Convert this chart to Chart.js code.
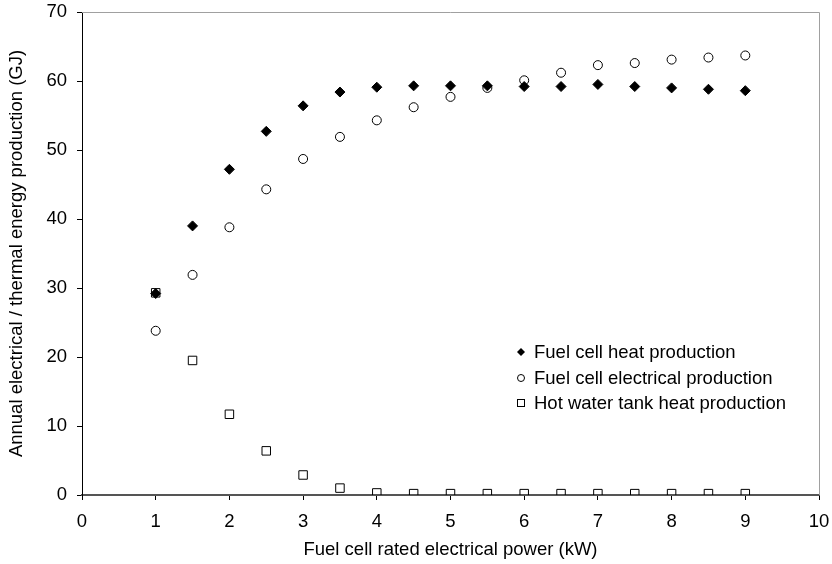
<!DOCTYPE html>
<html>
<head>
<meta charset="utf-8">
<script src="https://cdn.jsdelivr.net/npm/chart.js@4/dist/chart.umd.min.js"></script>
<style>
  html, body { margin: 0; padding: 0; background: #fff; }
  #wrap { width: 832px; height: 564px; }
</style>
</head>
<body>
<div id="wrap"><canvas id="chart" width="832" height="564"></canvas></div>
<script>
'use strict';

// Puissance électrique nominale (kW)
const power = [1, 1.5, 2, 2.5, 3, 3.5, 4, 4.5, 5, 5.5, 6, 6.5, 7, 7.5, 8, 8.5, 9];

const heatProduction = [29.2, 39.0, 47.2, 52.7, 56.4, 58.4, 59.1, 59.3, 59.3, 59.3, 59.2, 59.2, 59.5, 59.2, 59.0, 58.8, 58.6];
const electricalProduction = [23.8, 31.9, 38.8, 44.3, 48.7, 51.9, 54.3, 56.2, 57.7, 59.0, 60.1, 61.2, 62.3, 62.6, 63.1, 63.4, 63.7];
const tankHeatProduction = [29.3, 19.5, 11.7, 6.4, 2.9, 1.0, 0.3, 0.2, 0.2, 0.2, 0.2, 0.2, 0.2, 0.2, 0.2, 0.2, 0.2];

const seriesLabels = ['Fuel cell heat production', 'Fuel cell electrical production', 'Hot water tank heat production'];
const xTicks = [0, 1, 2, 3, 4, 5, 6, 7, 8, 9, 10];
const yTicks = [0, 10, 20, 30, 40, 50, 60, 70];

const FONT = 'Liberation Sans, Arial, sans-serif';
const FONT_SIZE = 18.5;

function toPoints(values) {
    return power.map((x, i) => ({ x: x, y: values[i] }));
}

// Cadre gris en haut et à droite + légende dans la zone du graphique
const framePlugin = {
    id: 'frame',
    beforeDatasetsDraw(chart) {
        const { ctx, chartArea: a } = chart;
        ctx.save();
        ctx.strokeStyle = '#a0a0a0';
        ctx.lineWidth = 1;
        ctx.beginPath();
        ctx.moveTo(a.left, a.top + 0.5);
        ctx.lineTo(a.right + 0.5, a.top + 0.5);
        ctx.lineTo(a.right + 0.5, a.bottom);
        ctx.stroke();
        ctx.restore();
    },
    afterDraw(chart) {
        const ctx = chart.ctx;
        const x0 = 521;
        const rows = [352, 378, 403];
        ctx.save();
        ctx.font = FONT_SIZE + 'px ' + FONT;
        ctx.fillStyle = '#000';
        ctx.textBaseline = 'middle';
        ctx.textAlign = 'left';
        ctx.strokeStyle = '#000';
        ctx.lineWidth = 1;
        // losange plein
        ctx.beginPath();
        ctx.moveTo(x0, rows[0] - 4);
        ctx.lineTo(x0 + 4, rows[0]);
        ctx.lineTo(x0, rows[0] + 4);
        ctx.lineTo(x0 - 4, rows[0]);
        ctx.closePath();
        ctx.fill();
        // cercle vide
        ctx.beginPath();
        ctx.arc(x0, rows[1], 3.5, 0, Math.PI * 2);
        ctx.stroke();
        // carré vide
        ctx.strokeRect(x0 - 3.5, rows[2] - 3.5, 7, 7);
        seriesLabels.forEach((lbl, i) => ctx.fillText(lbl, x0 + 13, rows[i] + 1));
        ctx.restore();
    }
};

const ctx = document.getElementById('chart');

const chartConfig = {
    type: 'scatter',
    data: {
        datasets: [{
            label: seriesLabels[0],
            data: toPoints(heatProduction),
            pointStyle: 'rectRot',
            pointRadius: 5,
            backgroundColor: '#000',
            borderColor: '#000',
            borderWidth: 1
        }, {
            label: seriesLabels[1],
            data: toPoints(electricalProduction),
            pointStyle: 'circle',
            pointRadius: 4.5,
            backgroundColor: '#fff',
            borderColor: '#000',
            borderWidth: 1
        }, {
            label: seriesLabels[2],
            data: toPoints(tankHeatProduction),
            pointStyle: 'rect',
            pointRadius: 6,
            backgroundColor: 'rgba(255,255,255,0)',
            borderColor: '#000',
            borderWidth: 1
        }]
    },
    options: {
        responsive: false,
        animation: false,
        events: [],
        layout: { padding: { left: 0, right: 13, top: 12, bottom: 0 } },
        plugins: {
            legend: { display: false },
            tooltip: { enabled: false }
        },
        scales: {
            x: {
                type: 'linear',
                min: 0,
                max: 10,
                afterBuildTicks: scale => { scale.ticks = xTicks.map(v => ({ value: v })); },
                afterFit: scale => {
                    scale.height = 69;
                    scale.paddingLeft = 0;
                    scale.paddingRight = 0;
                },
                border: { display: true, color: '#555', width: 2 },
                grid: { drawOnChartArea: false, drawTicks: true, tickLength: 5, color: '#000' },
                ticks: { color: '#000', font: { family: FONT, size: FONT_SIZE }, padding: 11, maxRotation: 0 },
                title: {
                    display: true,
                    text: 'Fuel cell rated electrical power (kW)',
                    color: '#000',
                    font: { family: FONT, size: FONT_SIZE },
                    padding: { top: 0, bottom: 3 }
                }
            },
            y: {
                type: 'linear',
                min: 0,
                max: 70,
                afterBuildTicks: scale => { scale.ticks = yTicks.map(v => ({ value: v })); },
                afterFit: scale => {
                    scale.width = 82;
                    scale.paddingTop = 0;
                    scale.paddingBottom = 0;
                },
                border: { display: true, color: '#000', width: 1 },
                grid: { drawOnChartArea: false, drawTicks: true, tickLength: 5, color: '#000' },
                ticks: { color: '#000', font: { family: FONT, size: FONT_SIZE }, padding: 10 },
                title: {
                    display: true,
                    text: 'Annual electrical / thermal energy production (GJ)',
                    color: '#000',
                    font: { family: FONT, size: FONT_SIZE },
                    padding: { top: 6, bottom: 0 }
                }
            }
        }
    },
    plugins: [framePlugin]
};

new Chart(ctx, chartConfig);
</script>
</body>
</html>
